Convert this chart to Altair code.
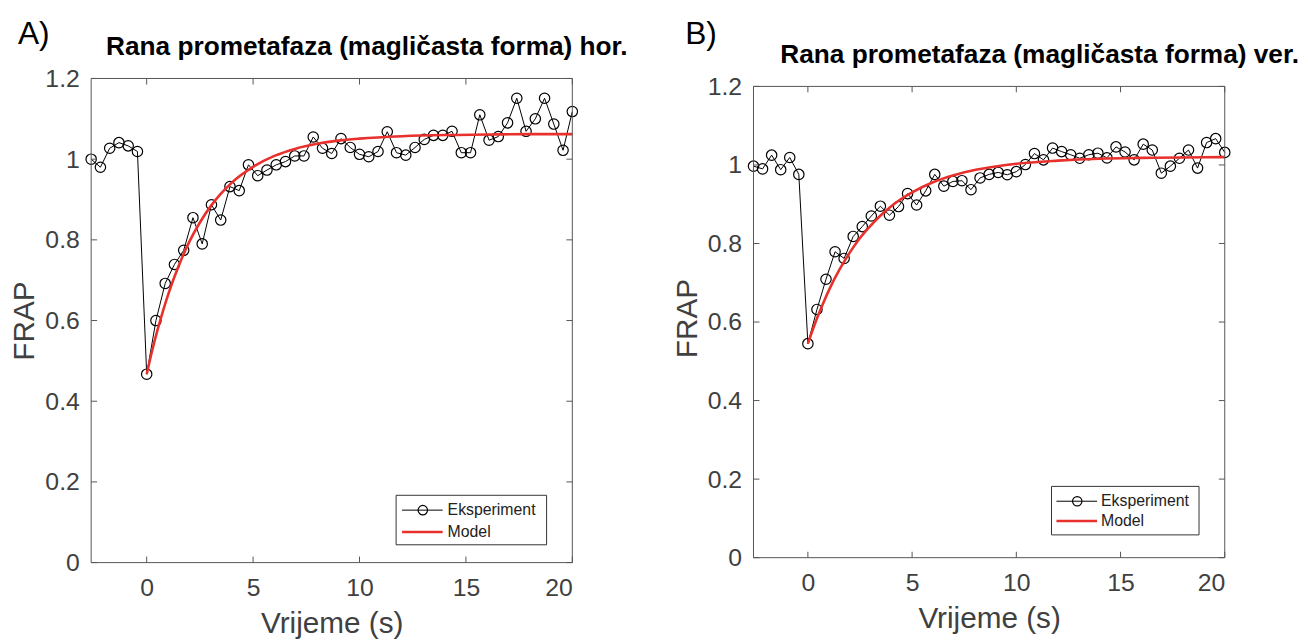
import altair as alt
import pandas as pd

# ---------------- data ----------------
TIME = [-2.609, -2.174, -1.739, -1.304, -0.870, -0.435,
        0.000, 0.435, 0.870, 1.304, 1.739, 2.174, 2.609, 3.043, 3.478, 3.913,
        4.348, 4.783, 5.217, 5.652, 6.087, 6.522, 6.957, 7.391, 7.826, 8.261,
        8.696, 9.130, 9.565, 10.000, 10.435, 10.870, 11.304, 11.739, 12.174, 12.609,
        13.043, 13.478, 13.913, 14.348, 14.783, 15.217, 15.652, 16.087, 16.522, 16.957,
        17.391, 17.826, 18.261, 18.696, 19.130, 19.565, 20.000]

EXP_A = [1.000, 0.980, 1.027, 1.041, 1.033, 1.019,
         0.467, 0.600, 0.692, 0.739, 0.774, 0.855, 0.790, 0.887, 0.849, 0.932,
         0.922, 0.986, 0.959, 0.973, 0.986, 0.994, 1.008, 1.008, 1.055, 1.027,
         1.014, 1.051, 1.029, 1.012, 1.006, 1.019, 1.068, 1.016, 1.010, 1.029,
         1.049, 1.059, 1.059, 1.069, 1.016, 1.016, 1.110, 1.047, 1.056, 1.090,
         1.151, 1.069, 1.100, 1.151, 1.087, 1.022, 1.118]

EXP_B = [0.997, 0.990, 1.025, 0.988, 1.019, 0.976,
         0.545, 0.632, 0.709, 0.779, 0.762, 0.818, 0.843, 0.870, 0.895, 0.872,
         0.894, 0.927, 0.898, 0.934, 0.976, 0.946, 0.958, 0.960, 0.937, 0.967,
         0.976, 0.981, 0.975, 0.983, 1.001, 1.029, 1.013, 1.043, 1.034, 1.026,
         1.017, 1.026, 1.030, 1.018, 1.046, 1.033, 1.013, 1.053, 1.038, 0.979,
         0.997, 1.017, 1.038, 0.992, 1.057, 1.067, 1.032]

MODEL_T = [0, 0.25, 0.5, 0.75, 1, 1.5, 2, 2.5, 3, 3.5, 4, 5, 6, 7, 8, 9, 10,
           12, 14, 16, 18, 20]
MODEL_A = [0.467, 0.524, 0.575, 0.621, 0.663, 0.735, 0.795, 0.843, 0.883, 0.915,
           0.942, 0.981, 1.008, 1.026, 1.038, 1.046, 1.051, 1.057, 1.060, 1.061,
           1.062, 1.062]
MODEL_B = [0.545, 0.583, 0.618, 0.650, 0.680, 0.732, 0.776, 0.814, 0.845, 0.872,
           0.895, 0.930, 0.956, 0.974, 0.987, 0.996, 1.003, 1.011, 1.016, 1.018,
           1.019, 1.020]

X_TICKS = [0, 5, 10, 15, 20]
Y_TICKS = [0, 0.2, 0.4, 0.6, 0.8, 1.0, 1.2]
X_DOMAIN = [-2.609, 20]
Y_MIN, Y_MAX = 0, 1.2
LEGEND_LABELS = ["Eksperiment", "Model"]
X_TITLE = "Vrijeme (s)"
Y_TITLE = "FRAP"

FONT = "Liberation Sans"
AX = "#555555"
TXT = "#404040"
RED = "#e8302c"
TICK = 0.015  # inward tick length in data units (about 6 px)


def panel(y_exp, y_model, W, H, y_top_view, letter, title, letter_xy, title_xy, leg):
    xs = alt.Scale(domain=X_DOMAIN, nice=False, zero=False)
    ys = alt.Scale(domain=[Y_MIN, y_top_view], nice=False, zero=False)
    xax = alt.Axis(values=X_TICKS, format="~g", ticks=False, domain=False, grid=False,
                   labelFont=FONT, labelFontSize=25, labelColor=TXT, labelPadding=13,
                   title=X_TITLE, titleFont=FONT, titleFontSize=30,
                   titleFontWeight="normal", titleColor=TXT, titlePadding=9)
    yax = alt.Axis(values=Y_TICKS, format="~g", ticks=False, domain=False, grid=False,
                   labelFont=FONT, labelFontSize=25, labelColor=TXT, labelPadding=12,
                   title=Y_TITLE, titleFont=FONT, titleFontSize=30,
                   titleFontWeight="normal", titleColor=TXT, titlePadding=5)

    exp_df = pd.DataFrame({"t": TIME, "y": y_exp})
    mod_df = pd.DataFrame({"t": MODEL_T, "y": y_model})

    line = alt.Chart(exp_df).mark_line(color="black", strokeWidth=1).encode(
        x=alt.X("t:Q", scale=xs, axis=xax), y=alt.Y("y:Q", scale=ys, axis=yax))
    pts = alt.Chart(exp_df).mark_point(shape="circle", filled=False, color="black",
                                       size=110, strokeWidth=1.2, opacity=1).encode(
        x="t:Q", y="y:Q")
    model = alt.Chart(mod_df).mark_line(color=RED, strokeWidth=2.6,
                                        interpolate="monotone").encode(
        x="t:Q", y="y:Q")

    one = alt.Chart(pd.DataFrame({"k": [0]}))
    frame = one.mark_rect(fill=None, stroke=AX, strokeWidth=1).encode(
        x=alt.value(0), x2=alt.value(W), y=alt.datum(Y_MAX), y2=alt.datum(Y_MIN))

    xt = alt.Chart(pd.DataFrame({"t": X_TICKS}))
    yt = alt.Chart(pd.DataFrame({"y": Y_TICKS}))
    tk = dict(color=AX, strokeWidth=1)
    ticks = [
        xt.mark_rule(**tk).encode(x="t:Q", y=alt.datum(Y_MIN), y2=alt.datum(Y_MIN + TICK)),
        xt.mark_rule(**tk).encode(x="t:Q", y=alt.datum(Y_MAX), y2=alt.datum(Y_MAX - TICK)),
        yt.mark_rule(**tk).encode(y="y:Q", x=alt.value(0), x2=alt.value(6)),
        yt.mark_rule(**tk).encode(y="y:Q", x=alt.value(W - 6), x2=alt.value(W)),
    ]

    bx0, bx1, by0, by1, ly1, ly2, lx0, lx1, lcx, ltx = leg
    legend = [
        one.mark_rect(fill="white", stroke="#333333", strokeWidth=1).encode(
            x=alt.value(bx0), x2=alt.value(bx1), y=alt.value(by0), y2=alt.value(by1)),
        one.mark_rule(color="black", strokeWidth=1).encode(
            x=alt.value(lx0), x2=alt.value(lx1), y=alt.value(ly1)),
        one.mark_point(shape="circle", filled=False, color="black", size=90,
                       strokeWidth=1.2, opacity=1).encode(
            x=alt.value(lcx), y=alt.value(ly1)),
        one.mark_rule(color=RED, strokeWidth=2.6).encode(
            x=alt.value(lx0), x2=alt.value(lx1), y=alt.value(ly2)),
        one.mark_text(align="left", baseline="middle", font=FONT, fontSize=16,
                      color="#222222").encode(
            x=alt.value(ltx), y=alt.value(ly1), text=alt.value(LEGEND_LABELS[0])),
        one.mark_text(align="left", baseline="middle", font=FONT, fontSize=16,
                      color="#222222").encode(
            x=alt.value(ltx), y=alt.value(ly2), text=alt.value(LEGEND_LABELS[1])),
    ]

    heads = [
        one.mark_text(align="left", baseline="alphabetic", font=FONT, fontSize=32,
                      color="black").encode(
            x=alt.value(letter_xy[0]), y=alt.value(letter_xy[1]), text=alt.value(letter)),
        one.mark_text(align="left", baseline="alphabetic", font=FONT, fontSize=26.5,
                      fontWeight="bold", color="black").encode(
            x=alt.value(title_xy[0]), y=alt.value(title_xy[1]), text=alt.value(title)),
    ]

    return alt.layer(line, pts, model, frame, *ticks, *legend, *heads).properties(
        width=W, height=H)


# panel A: plot 486 x 489; panel B: plot 476 x 476 sitting 8 px lower
chart_a = panel(EXP_A, MODEL_A, 486, 489, 1.2, "A)",
                "Rana prometafaza (magličasta forma) hor.",
                (-74, -35), (15, -24),
                (308, 460, 421, 471, 436, 458, 314, 355, 335, 360))
chart_b = panel(EXP_B, MODEL_B, 476, 484, 1.2202, "B)",
                "Rana prometafaza (magličasta forma) ver.",
                (-69, -35), (27, -16),
                (301, 450, 412, 461, 427, 447, 306, 347, 327, 351))

chart = alt.hconcat(chart_a, chart_b, spacing=44).properties(
    padding={"left": 2, "top": 7, "right": 0, "bottom": 0}
).configure_view(stroke=None)

chart.save("out.html", embed_options={"renderer": "svg", "actions": False})
